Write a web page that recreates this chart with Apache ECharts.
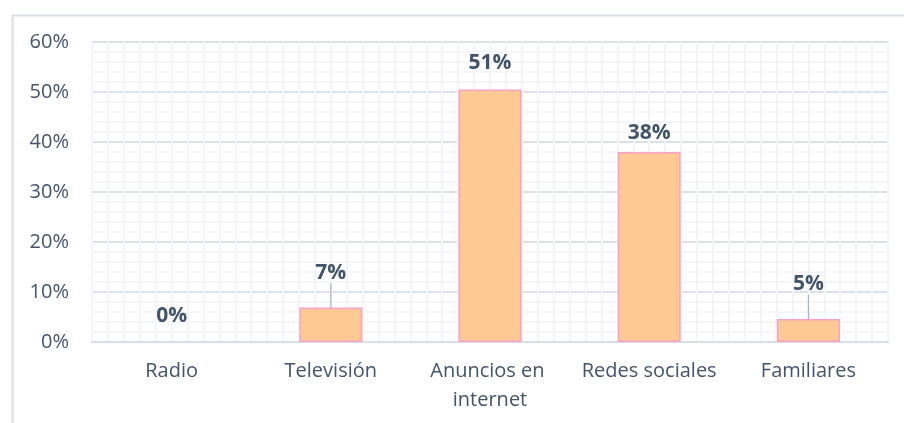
<!DOCTYPE html>
<html>
<head>
<meta charset="utf-8">
<script src="https://cdn.jsdelivr.net/npm/echarts@6/dist/echarts.min.js"></script>
<style>
  html, body { margin: 0; padding: 0; background: #fff; }
  #chart { width: 904px; height: 423px; }
</style>
</head>
<body>
<div id="chart"></div>
<script>
const categories = ["Radio", "Televisión", "Anuncios en internet", "Redes sociales", "Familiares"];
const shares = [0, 6.9, 50.5, 38.0, 4.6];
const yTicks = [0, 10, 20, 30, 40, 50, 60];

// etiquetas con línea guía (Televisión, Familiares)
const withLeader = [false, true, false, false, true];
const labelDy = [3, -6, 2, 10, -6];

const textColor = "#44546A";
const fontFamily = "'Open Sans', sans-serif";

const chart = echarts.init(document.getElementById("chart"));

chart.setOption({
  backgroundColor: "#fff",
  animation: false,
  textStyle: { fontFamily: fontFamily, color: textColor },
  graphic: [{
    type: "rect",
    left: 10, top: 13,
    shape: { width: 1000, height: 500 },
    style: { fill: "none", stroke: "#D9DEE7", lineWidth: 2 },
    silent: true,
    z: -10
  }],
  grid: { left: 92, right: 16, top: 42, bottom: 81 },
  xAxis: [
    {
      type: "category",
      data: categories,
      axisLine: { show: true, lineStyle: { color: "#D9DEE6", width: 2 } },
      axisTick: { show: false },
      axisLabel: {
        color: textColor,
        fontSize: 20,
        fontFamily: fontFamily,
        margin: 15,
        lineHeight: 29,
        width: 156,
        overflow: "break",
        interval: 0
      },
      splitLine: { show: false }
    },
    {
      // rejilla fina vertical
      type: "value",
      min: 0, max: 50, interval: 1,
      show: true,
      position: "top",
      axisLine: { show: false },
      axisTick: { show: false },
      axisLabel: { show: false },
      splitLine: { show: true, lineStyle: { color: "#F4F5F8", width: 2 } }
    }
  ],
  yAxis: {
    type: "value",
    min: yTicks[0],
    max: yTicks[yTicks.length - 1],
    interval: 10,
    axisLine: { show: false },
    axisTick: { show: false },
    axisLabel: {
      color: textColor,
      fontSize: 20,
      fontFamily: fontFamily,
      margin: 23,
      formatter: v => v + "%"
    },
    splitLine: { lineStyle: { color: "#DDE2EA", width: 2 } },
    minorTick: { show: false, splitNumber: 5 },
    minorSplitLine: { show: true, lineStyle: { color: "#F5F6F9", width: 2 } }
  },
  series: [{
    type: "bar",
    xAxisIndex: 0,
    barWidth: 63,
    data: shares.map((v, i) => ({
      value: v,
      itemStyle: v === 0 ? { borderWidth: 0, color: "transparent" } : undefined,
      labelLine: { show: withLeader[i] }
    })),
    itemStyle: { color: "#FFC993", borderColor: "#F7A1C8", borderWidth: 1.5 },
    label: {
      show: true,
      position: "top",
      distance: 18,
      color: textColor,
      fontSize: 21,
      fontWeight: "bold",
      fontFamily: fontFamily,
      formatter: p => Math.round(p.value) + "%"
    },
    labelLine: { show: false, lineStyle: { color: "#A9B3C1", width: 1.2 } },
    labelLayout: p => ({ dy: labelDy[p.dataIndex] })
  }]
});
</script>
</body>
</html>
